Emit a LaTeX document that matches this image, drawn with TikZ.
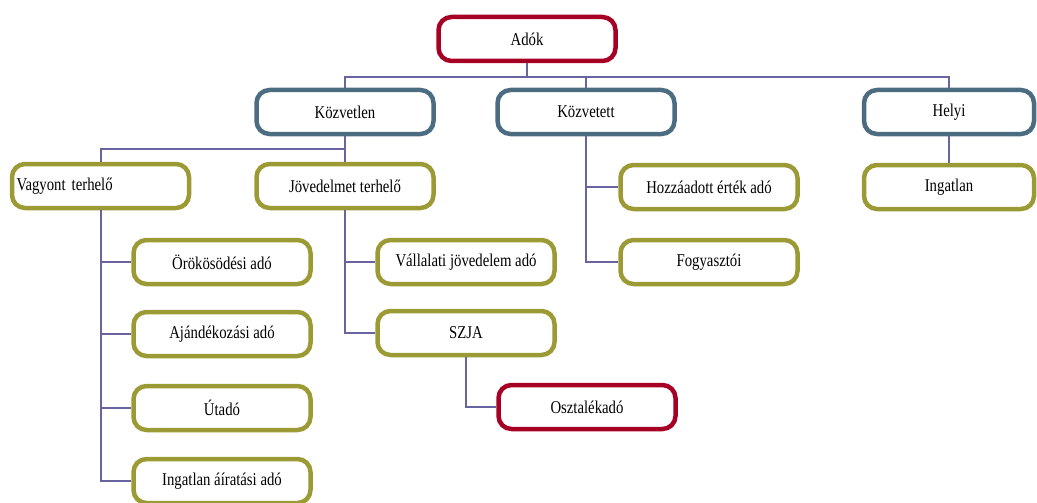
\documentclass[tikz,border=0pt]{standalone}
\usepackage{fontspec}
\setmainfont[FakeStretch=0.82]{Liberation Serif}
\usetikzlibrary{positioning}

\definecolor{adored}{RGB}{166,0,36}
\definecolor{adosteel}{RGB}{76,108,130}
\definecolor{adoolive}{RGB}{156,154,52}
\definecolor{adoline}{RGB}{104,100,160}

\begin{document}
\begin{tikzpicture}[
  x=1pt, y=-1pt,
  box/.style={draw, line width=4.5pt, rounded corners=13pt, fill=white,
    minimum width=177pt, minimum height=44pt, align=center,
    font=\fontsize{18}{21}\selectfont},
  redbox/.style={box, draw=adored},
  steelbox/.style={box, draw=adosteel},
  olivebox/.style={box, draw=adoolive},
  conn/.style={draw=adoline, line width=2pt}
]
  \useasboundingbox (0,0) rectangle (1037,503);

  % top level
  \node[redbox] (adok) at (527,39) {Adók};
  \node[steelbox] (kozvetlen) at (345,112) {Közvetlen};
  \node[steelbox] (kozvetett) at (586,112) {Közvetett};
  \node[steelbox, minimum width=170pt] (helyi) at (949,112) {Helyi};

  % second level
  \node[olivebox, text width=168pt, align=left] (vagyont) at (100.5,186) {Vagyont terhelő};
  \node[olivebox] (jovedelem) at (345,186) {Jövedelmet terhelő};
  \node[olivebox] (hozzaadott) at (709,187) {Hozzáadott érték adó};
  \node[olivebox] (fogyaszto) at (709,262) {Fogyasztói};
  \node[olivebox, minimum width=170pt] (ingatlan) at (949,187) {Ingatlan};

  % third level
  \node[olivebox] (orokos) at (222,262) {Örökösödési adó};
  \node[olivebox] (ajandek) at (222,334) {Ajándékozási adó};
  \node[olivebox] (utado) at (222,408) {Útadó};
  \node[olivebox] (atiras) at (222,481) {Ingatlan áíratási adó};
  \node[olivebox] (vallalati) at (466,262) {Vállalati jövedelem adó};
  \node[olivebox] (szja) at (466,333) {SZJA};
  \node[redbox] (osztalek) at (587,407) {Osztalékadó};

  % connectors
  \draw[conn] (adok.south) -- ++(0,14) coordinate (bus);
  \draw[conn] (kozvetlen.north) |- (bus) -| (helyi.north);
  \draw[conn] (bus) -| (kozvetett.north);
  \draw[conn] (kozvetlen.south) -- ++(0,13) coordinate (bus2);
  \draw[conn] (vagyont.north) |- (bus2) -- (jovedelem.north);
  \draw[conn] (vagyont.south) |- (orokos.west);
  \draw[conn] (vagyont.south) |- (ajandek.west);
  \draw[conn] (vagyont.south) |- (utado.west);
  \draw[conn] (vagyont.south) |- (atiras.west);
  \draw[conn] (jovedelem.south) |- (vallalati.west);
  \draw[conn] (jovedelem.south) |- (szja.west);
  \draw[conn] (szja.south) |- (osztalek.west);
  \draw[conn] (kozvetett.south) |- (hozzaadott.west);
  \draw[conn] (kozvetett.south) |- (fogyaszto.west);
  \draw[conn] (helyi.south) -- (ingatlan.north);
\end{tikzpicture}
\end{document}
